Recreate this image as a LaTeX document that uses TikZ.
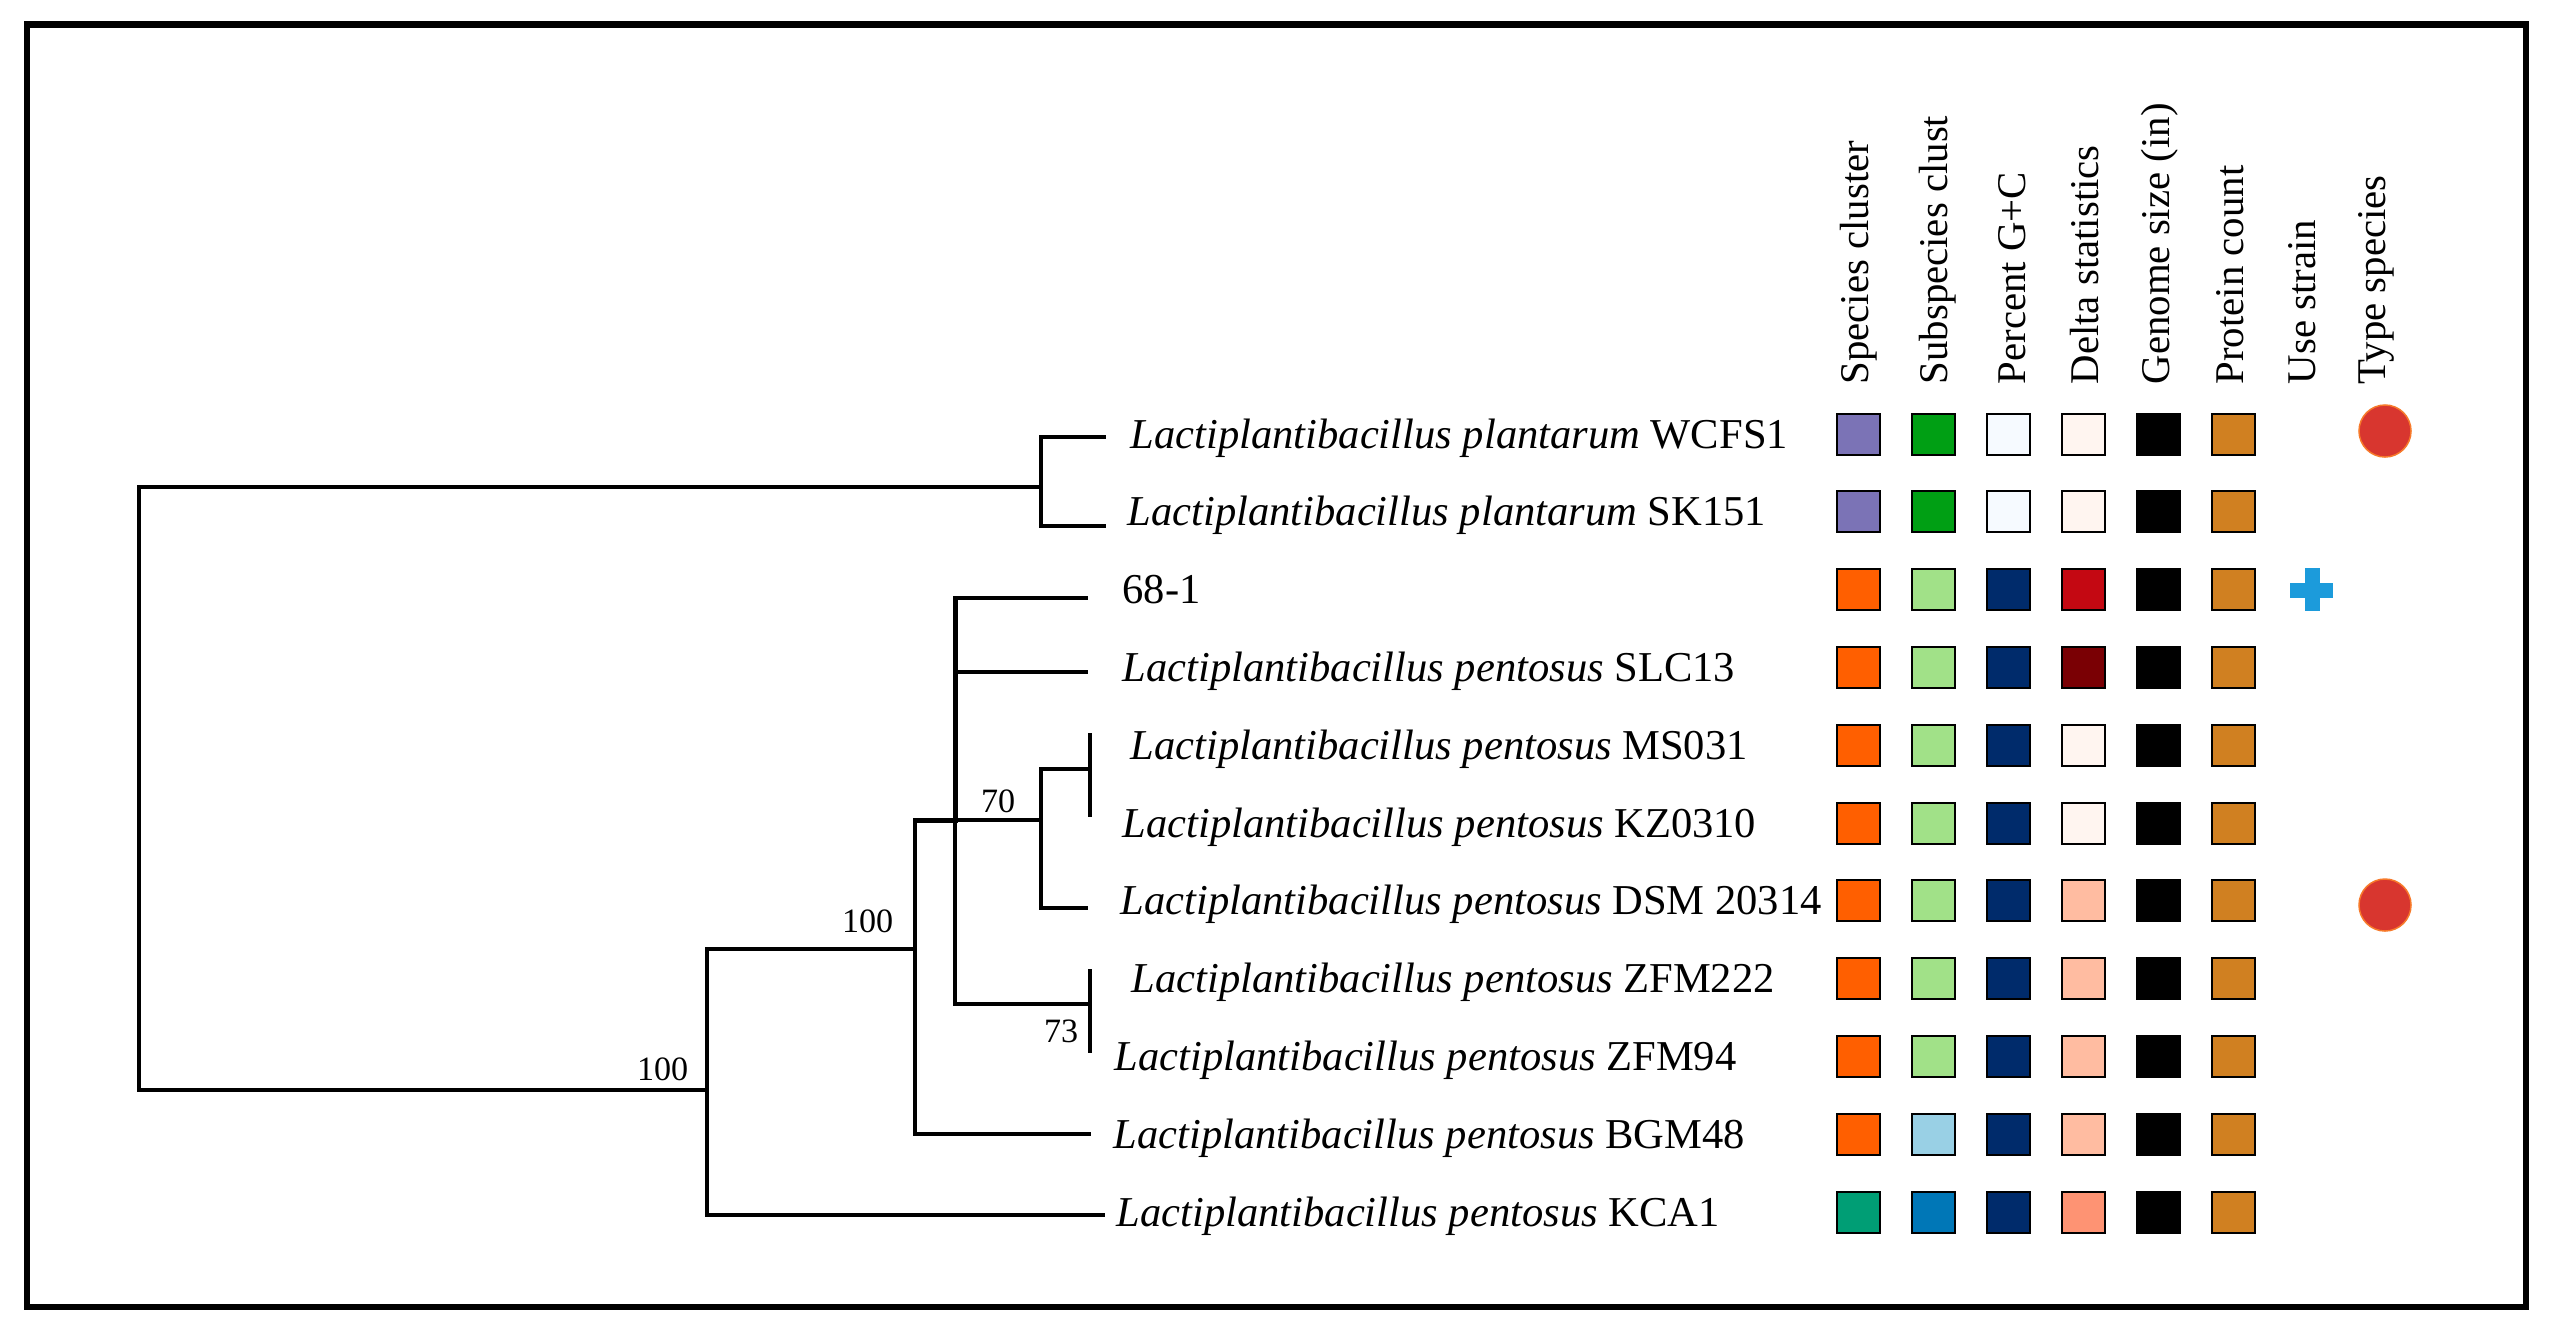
\documentclass[tikz,border=0pt]{standalone}
\usepackage{fontspec}
\setmainfont{Liberation Serif}
\definecolor{scP}{HTML}{7B73B6}
\definecolor{scO}{HTML}{FF5F00}
\definecolor{scT}{HTML}{009E75}
\definecolor{ssG}{HTML}{009F14}
\definecolor{ssL}{HTML}{A1E188}
\definecolor{ssB}{HTML}{99D0E5}
\definecolor{ssD}{HTML}{0077B7}
\definecolor{gcW}{HTML}{F6FAFF}
\definecolor{gcN}{HTML}{002B6B}
\definecolor{dW}{HTML}{FFF5F0}
\definecolor{dR}{HTML}{C40812}
\definecolor{dD}{HTML}{7A0004}
\definecolor{dS}{HTML}{FFBCA1}
\definecolor{dF}{HTML}{FE9373}
\definecolor{pcB}{HTML}{D08021}
\definecolor{usB}{HTML}{1C9BDB}
\definecolor{tsR}{HTML}{D8362F}
\definecolor{tsO}{HTML}{F77A2B}
\newcommand{\lpb}[2]{\textit{Lactiplantibacillus #1} #2}
\tikzset{
    rama/.style={line width=0.035cm},
    ramag/.style={line width=0.05cm},
    celda/.style={draw=black,line width=0.02cm,minimum width=0.43cm,minimum height=0.41cm,inner sep=0pt},
    cab/.style={rotate=90,anchor=west,inner sep=0pt,font=\fontsize{11.6}{13}\selectfont},
    cepa/.style={anchor=base west,inner sep=0pt,font=\fontsize{12.1}{14}\selectfont},
    boot/.style={anchor=base east,inner sep=0pt,font=\fontsize{9.7}{11}\selectfont},
    tipo/.style={circle,fill=tsR,draw=tsO,line width=0.015cm,minimum size=0.52cm,inner sep=0pt}
}
\begin{document}
\begin{tikzpicture}[x=0.01cm,y=-0.01cm]
    \fill[white] (0,0) rectangle (2550,1326);
    %Marco
    \draw[line width=0.065cm] (27,24.5) rectangle (2526,1307);

    %Nodos del arbol
    \coordinate (nR) at (139,788);
    \coordinate (nP) at (1041,487);
    \coordinate (nA) at (707,1090);
    \coordinate (nB) at (915,949);
    \coordinate (nC) at (955,820);
    \coordinate (nD) at (1041,820);
    \coordinate (nM) at (1090,769);
    \coordinate (nZ) at (1090,1004);
    %Puntas
    \coordinate (tW) at (1106,437);
    \coordinate (tS) at (1106,526);
    \coordinate (t68) at (1088,598);
    \coordinate (tSL) at (1088,672);
    \coordinate (tMS) at (1090,733);
    \coordinate (tKZ) at (1090,817);
    \coordinate (tDS) at (1088,908);
    \coordinate (tZ1) at (1090,969);
    \coordinate (tZ2) at (1090,1053);
    \coordinate (tBG) at (1091,1134);
    \coordinate (tKC) at (1105,1215);

    %Ramas
    \draw[rama] (nR) |- (nP) (nR) |- (nA);
    \draw[rama] (nP) |- (tW) (nP) |- (tS);
    \draw[rama] (nA) |- (nB) (nA) |- (tKC);
    \draw[rama] (nB) |- (nC) (nB) |- (tBG);
    \draw[rama] (nC) |- (t68) (nC) |- (tSL) (nC) -- (nD) (nC) |- (nZ);
    \draw[rama] (nD) |- (nM) (nD) |- (tDS);
    \draw[rama] (tMS) -- (tKZ) (tZ1) -- (tZ2);
    \draw[ramag] (nB |- nC) -- (nC) -- (nC |- t68);

    %Soporte
    \node[boot] (b1) at (689,1080) {100};
    \node[boot] (b2) at (894,932) {100};
    \node[boot] (b3) at (1016,812) {70};
    \node[boot] (b4) at (1079,1042) {73};

    %Cepas
    \foreach \i/\x/\t in {1/1130/{\lpb{plantarum}{WCFS1}},
                          2/1127/{\lpb{plantarum}{SK151}},
                          3/1122/{68-1},
                          4/1122/{\lpb{pentosus}{SLC13}},
                          5/1130/{\lpb{pentosus}{MS031}},
                          6/1122/{\lpb{pentosus}{KZ0310}},
                          7/1120/{\lpb{pentosus}{DSM 20314}},
                          8/1131/{\lpb{pentosus}{ZFM222}},
                          9/1114/{\lpb{pentosus}{ZFM94}},
                          10/1113/{\lpb{pentosus}{BGM48}},
                          11/1116/{\lpb{pentosus}{KCA1}}}{
        \node[cepa] (e\i) at (\x,{434+77.8*(\i-1)+14}) {\t};
    }

    %Cabeceras
    \foreach \x/\t [count=\j] in {1859/{Species cluster},1938/{Subspecies clust},
                                  2012/{Percent G+C},2085/{Delta statistics},
                                  2160/{Genome size (in)},2230/{Protein count},
                                  2302/{Use strain},2376/{Type species}}{
        \node[cab] (h\j) at (\x,385) {\t};
    }

    %Celdas
    \foreach \i/\ca/\cb/\cc/\cd in {1/scP/ssG/gcW/dW,2/scP/ssG/gcW/dW,
                                    3/scO/ssL/gcN/dR,4/scO/ssL/gcN/dD,
                                    5/scO/ssL/gcN/dW,6/scO/ssL/gcN/dW,
                                    7/scO/ssL/gcN/dS,8/scO/ssL/gcN/dS,
                                    9/scO/ssL/gcN/dS,10/scO/ssB/gcN/dS,
                                    11/scT/ssD/gcN/dF}{
        \pgfmathsetmacro\yy{434+77.8*(\i-1)}
        \foreach \c [count=\k] in {\ca,\cb,\cc,\cd,black,pcB}{
            \node[celda,fill=\c] (c\i-\k) at ({1858+75*(\k-1)},\yy) {};
        }
    }

    %Cepa de uso
    \fill[usB] (2290,582.5) rectangle (2333,597.5);
    \fill[usB] (2304.5,568) rectangle (2319.5,611);

    %Especie tipo
    \node[tipo] (ts1) at (2385,431) {};
    \node[tipo] (ts7) at (2385,905) {};
\end{tikzpicture}
\end{document}
